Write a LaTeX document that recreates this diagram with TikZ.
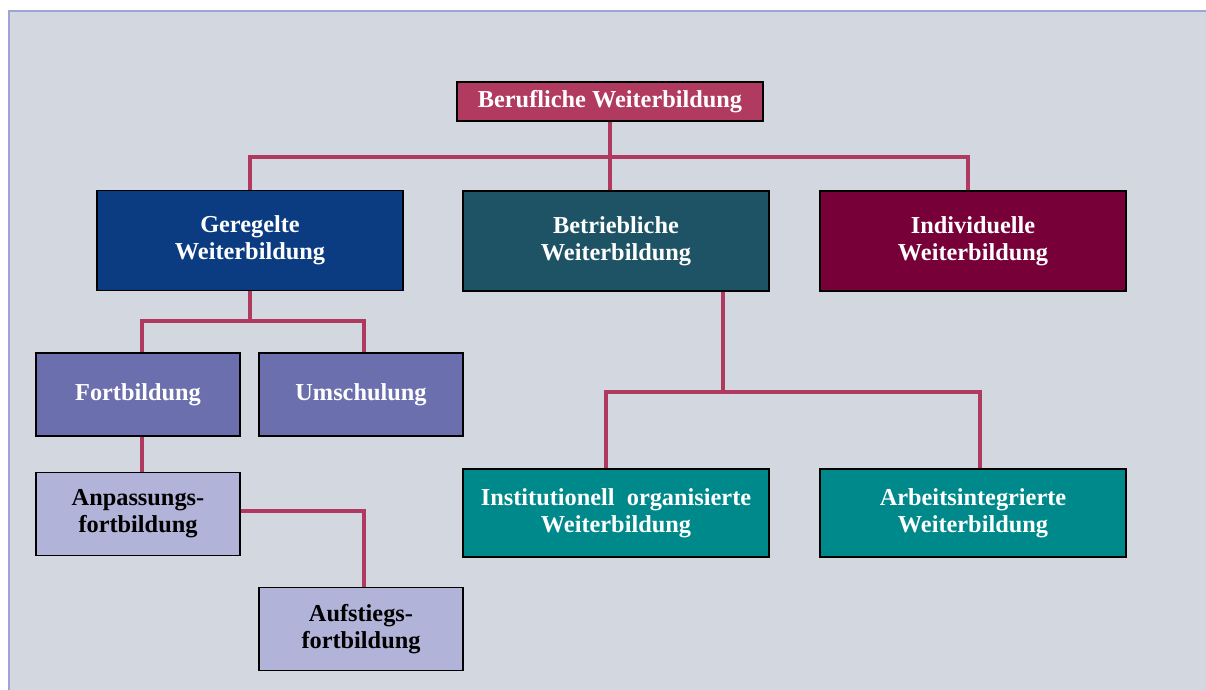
\documentclass[tikz,border=0pt]{standalone}
\usepackage{fontspec}
\setmainfont{Liberation Serif}
\usepackage{tikz}
\usepackage{color}

\definecolor{bgcol}{HTML}{D3D7E0}
\definecolor{framecol}{HTML}{9FA3D6}
\definecolor{linkcol}{HTML}{B0395F}
\definecolor{berufcol}{HTML}{B13A60}
\definecolor{geregeltcol}{HTML}{0B3C82}
\definecolor{betriebcol}{HTML}{1E5366}
\definecolor{indivcol}{HTML}{780039}
\definecolor{fortcol}{HTML}{6B6FAD}
\definecolor{anpasscol}{HTML}{B2B3D8}
\definecolor{institcol}{HTML}{00898A}

\begin{document}
\begin{tikzpicture}[x=0.025cm, y=-0.025cm,
		box/.style={draw=black, line width=1.3pt, align=center, inner sep=0pt,
			font=\bfseries\fontsize{17.3}{19}\selectfont},
		bigbox/.style={box, minimum width=7.65cm, minimum height=2.5cm, text=white},
		smallbox/.style={box, minimum width=5.1cm, minimum height=2.075cm},
		link/.style={draw=linkcol, line width=2.6pt}]
				
				\useasboundingbox (0,0) rectangle (1206,690);
				\fill[white] (0,0) rectangle (1206,690);
				\fill[bgcol] (9,11) rectangle (1206,690);
				\draw[framecol, line width=1.6pt] (9,690) -- (9,11) -- (1206,11);
				
				% first level
				\node[box, fill=berufcol, text=white, minimum width=7.65cm, minimum height=0.975cm] (beruf) at (610, 101.5) {Berufliche Weiterbildung};
				
				\node[bigbox, fill=geregeltcol] (geregelt) at (250, 240.5) {Geregelte\\Weiterbildung};
				\node[bigbox, fill=betriebcol] (betrieb) at (616, 241) {Betriebliche\\Weiterbildung};
				\node[bigbox, fill=indivcol] (indiv) at (973, 241) {Individuelle\\Weiterbildung};
				
				% geregelte Weiterbildung
				\node[smallbox, fill=fortcol, text=white] (fort) at (138, 394.5) {Fortbildung};
				\node[smallbox, fill=fortcol, text=white] (umsch) at (361, 394.5) {Umschulung};
				\node[smallbox, fill=anpasscol] (anpass) at (138, 514) {Anpassungs-\\fortbildung};
				\node[smallbox, fill=anpasscol] (aufst) at (361, 629) {Aufstiegs-\\fortbildung};
				
				% betriebliche Weiterbildung
				\node[bigbox, fill=institcol, minimum height=2.2cm] (instit) at (616, 513) {Institutionell~~organisierte\\Weiterbildung};
				\node[bigbox, fill=institcol, minimum height=2.2cm] (arbeit) at (973, 513) {Arbeitsintegrierte\\Weiterbildung};
				
				\coordinate (j1) at (610, 157);
				\coordinate (j2) at (250, 321);
				\coordinate (j3) at (723, 392);
				
				\draw[link] (beruf.south) -- (j1);
				\draw[link] (geregelt.north) |- (j1);
				\draw[link] ([xshift=-0.125cm]indiv.north) |- (j1);
				\draw[link] (j1) -- (j1 |- betrieb.north);
				
				\draw[link] (geregelt.south) -- (j2);
				\draw[link] ([xshift=0.1cm]fort.north) |- (j2);
				\draw[link] ([xshift=0.075cm]umsch.north) |- (j2);
				\draw[link] ([xshift=0.1cm]fort.south) -- ([xshift=0.1cm]anpass.north);
				\draw[link] ([yshift=0.075cm]anpass.east) -| ([xshift=0.075cm]aufst.north);
				
				\draw[link] (betrieb.south -| j3) -- (j3);
				\draw[link] ([xshift=-0.25cm]instit.north) |- (j3);
				\draw[link] ([xshift=0.175cm]arbeit.north) |- (j3);
				
			\end{tikzpicture}
\end{document}
